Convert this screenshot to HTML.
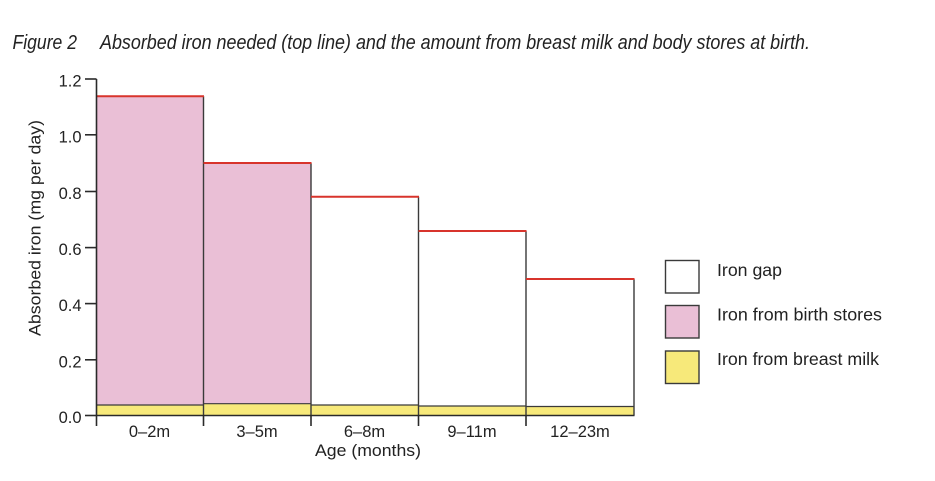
<!DOCTYPE html>
<html>
<head>
<meta charset="utf-8">
<style>
  html,body{margin:0;padding:0;background:#ffffff;}
  svg{display:block;}
  text{font-family:"Liberation Sans", Arial, sans-serif;fill:#222222;}
</style>
</head>
<body>
<svg width="935" height="481" viewBox="0 0 935 481" xmlns="http://www.w3.org/2000/svg">
  <rect x="0" y="0" width="935" height="481" fill="#ffffff"/>

  <!-- Title -->
  <text x="12.5" y="49" font-size="20" font-style="italic" textLength="64.5" lengthAdjust="spacingAndGlyphs">Figure 2</text>
  <text x="100" y="49" font-size="20" font-style="italic" textLength="710" lengthAdjust="spacingAndGlyphs">Absorbed iron needed (top line) and the amount from breast milk and body stores at birth.</text>

  <!-- Bars: pink (birth stores) -->
  <rect x="96.5" y="96.3" width="107" height="319" fill="#eabfd6"/>
  <rect x="203.5" y="163" width="107.5" height="252.5" fill="#eabfd6"/>
  <!-- white gap bars -->
  <rect x="311" y="196.7" width="107.5" height="218.8" fill="#ffffff"/>
  <rect x="418.5" y="231" width="107.5" height="184.5" fill="#ffffff"/>
  <rect x="526" y="279" width="108" height="136.5" fill="#ffffff"/>

  <!-- yellow (breast milk) -->
  <rect x="96.5" y="405" width="107" height="10.5" fill="#f7e97a"/>
  <rect x="203.5" y="403.7" width="107.5" height="11.8" fill="#f7e97a"/>
  <rect x="311" y="405" width="107.5" height="10.5" fill="#f7e97a"/>
  <rect x="418.5" y="406" width="107.5" height="9.5" fill="#f7e97a"/>
  <rect x="526" y="406.5" width="108" height="9" fill="#f7e97a"/>

  <!-- yellow top borders -->
  <g stroke="#3a3a3a" stroke-width="1.2" fill="none">
    <line x1="96.5" y1="405" x2="203.5" y2="405"/>
    <line x1="203.5" y1="403.7" x2="311" y2="403.7"/>
    <line x1="311" y1="405" x2="418.5" y2="405"/>
    <line x1="418.5" y1="406" x2="526" y2="406"/>
    <line x1="526" y1="406.5" x2="634" y2="406.5"/>
  </g>

  <!-- vertical bar edges -->
  <g stroke="#3a3a3a" stroke-width="1.4" fill="none">
    <line x1="203.5" y1="96.3" x2="203.5" y2="415.5"/>
    <line x1="311" y1="163" x2="311" y2="415.5"/>
    <line x1="418.5" y1="196.7" x2="418.5" y2="415.5"/>
    <line x1="526" y1="231" x2="526" y2="415.5"/>
    <line x1="634" y1="279" x2="634" y2="415.5"/>
  </g>

  <!-- red top lines -->
  <g stroke="#d8342c" stroke-width="2" fill="none">
    <line x1="96.5" y1="96.3" x2="204" y2="96.3"/>
    <line x1="203.5" y1="163" x2="311.5" y2="163"/>
    <line x1="311" y1="196.7" x2="419" y2="196.7"/>
    <line x1="418.5" y1="231" x2="526.5" y2="231"/>
    <line x1="526" y1="279" x2="634.5" y2="279"/>
  </g>

  <!-- Axes -->
  <g stroke="#2a2a2a" stroke-width="1.6" fill="none">
    <line x1="96.5" y1="79" x2="96.5" y2="426"/>
    <line x1="96" y1="415.5" x2="634.5" y2="415.5"/>
    <!-- y ticks -->
    <line x1="85" y1="79" x2="96.5" y2="79"/>
    <line x1="85" y1="134.8" x2="96.5" y2="134.8"/>
    <line x1="85" y1="191.5" x2="96.5" y2="191.5"/>
    <line x1="85" y1="247.6" x2="96.5" y2="247.6"/>
    <line x1="85" y1="303.6" x2="96.5" y2="303.6"/>
    <line x1="85" y1="359.8" x2="96.5" y2="359.8"/>
    <line x1="85" y1="415.5" x2="96.5" y2="415.5"/>
    <!-- x ticks -->
    <line x1="203.5" y1="415.5" x2="203.5" y2="426"/>
    <line x1="311" y1="415.5" x2="311" y2="426"/>
    <line x1="418.5" y1="415.5" x2="418.5" y2="426"/>
    <line x1="526" y1="415.5" x2="526" y2="426"/>
  </g>

  <!-- y tick labels -->
  <g font-size="16.5" text-anchor="end">
    <text x="81.5" y="86.5">1.2</text>
    <text x="81.5" y="142.3">1.0</text>
    <text x="81.5" y="199">0.8</text>
    <text x="81.5" y="255.1">0.6</text>
    <text x="81.5" y="311.1">0.4</text>
    <text x="81.5" y="367.3">0.2</text>
    <text x="81.5" y="423">0.0</text>
  </g>

  <!-- x tick labels -->
  <g font-size="16.5" text-anchor="middle">
    <text x="149.5" y="437">0–2m</text>
    <text x="257" y="437">3–5m</text>
    <text x="364.5" y="437">6–8m</text>
    <text x="472" y="437">9–11m</text>
    <text x="580" y="437">12–23m</text>
  </g>

  <!-- axis titles -->
  <text x="315" y="456" font-size="16.5" textLength="106" lengthAdjust="spacingAndGlyphs">Age (months)</text>
  <text transform="translate(40.5,228) rotate(-90)" font-size="16.5" text-anchor="middle" textLength="216" lengthAdjust="spacingAndGlyphs">Absorbed iron (mg per day)</text>

  <!-- Legend -->
  <g stroke="#3a3a3a" stroke-width="1.4">
    <rect x="665.5" y="260.5" width="33.5" height="32.5" fill="#ffffff"/>
    <rect x="665.5" y="305.5" width="33.5" height="32.5" fill="#eabfd6"/>
    <rect x="665.5" y="351" width="33.5" height="32.5" fill="#f7e97a"/>
  </g>
  <g font-size="17.5">
    <text x="717" y="276" textLength="65" lengthAdjust="spacingAndGlyphs">Iron gap</text>
    <text x="717" y="320.5" textLength="165" lengthAdjust="spacingAndGlyphs">Iron from birth stores</text>
    <text x="717" y="365" textLength="162" lengthAdjust="spacingAndGlyphs">Iron from breast milk</text>
  </g>
</svg>
</body>
</html>
